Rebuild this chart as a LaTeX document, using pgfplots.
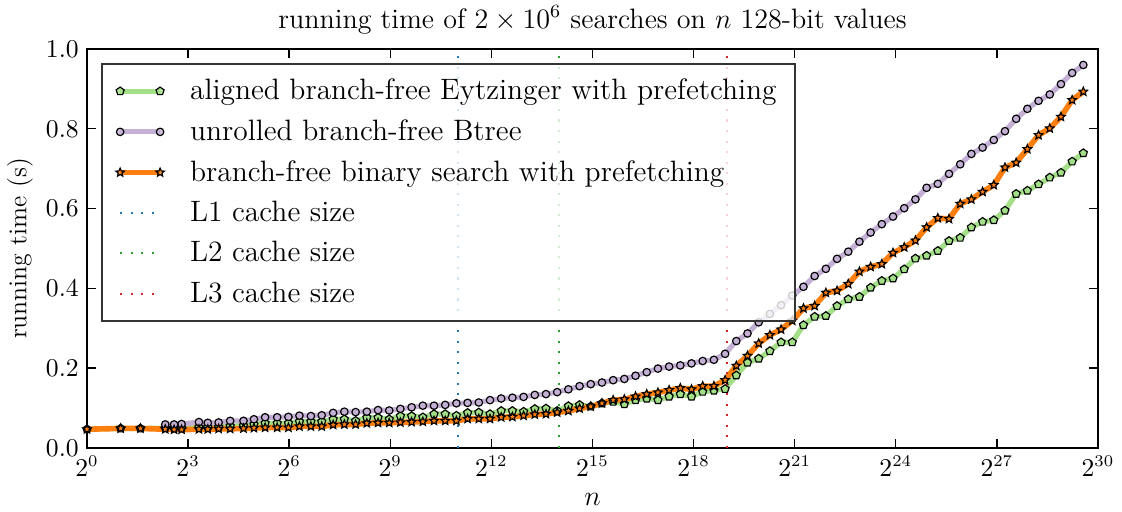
\documentclass[border=0pt]{standalone}
\usepackage{pgfplots}
\usepackage{pgfplotstable}
\pgfplotsset{compat=1.18}
\usetikzlibrary{plotmarks}
\definecolor{cgreen}{HTML}{A2DF86}
\definecolor{cpurple}{HTML}{C5B0D5}
\definecolor{corange}{HTML}{FF7F0E}
\definecolor{lone}{HTML}{1F77B4}
\definecolor{ltwo}{HTML}{2CA02C}
\definecolor{lthree}{HTML}{D62728}
\pgfdeclareplotmark{fstar}{%
  \pgfpathmoveto{\pgfpointpolar{90}{\pgfplotmarksize}}%
  \pgfpathlineto{\pgfpointpolar{126}{0.45\pgfplotmarksize}}%
  \pgfpathlineto{\pgfpointpolar{162}{\pgfplotmarksize}}%
  \pgfpathlineto{\pgfpointpolar{198}{0.45\pgfplotmarksize}}%
  \pgfpathlineto{\pgfpointpolar{234}{\pgfplotmarksize}}%
  \pgfpathlineto{\pgfpointpolar{270}{0.45\pgfplotmarksize}}%
  \pgfpathlineto{\pgfpointpolar{306}{\pgfplotmarksize}}%
  \pgfpathlineto{\pgfpointpolar{342}{0.45\pgfplotmarksize}}%
  \pgfpathlineto{\pgfpointpolar{18}{\pgfplotmarksize}}%
  \pgfpathlineto{\pgfpointpolar{54}{0.45\pgfplotmarksize}}%
  \pgfpathclose\pgfusepathqfillstroke}

\pgfplotstableread{
n y
1 0.047
2 0.049
3 0.049
5 0.050
6 0.050
7 0.050
10 0.052
12 0.052
15 0.053
19 0.055
25 0.056
31 0.059
39 0.062
50 0.062
63 0.062
79 0.066
100 0.066
125 0.066
158 0.072
199 0.072
251 0.068
316 0.076
398 0.076
501 0.072
630 0.080
794 0.080
1000 0.077
1258 0.085
1584 0.085
1995 0.081
2511 0.088
3162 0.089
3981 0.085
5011 0.093
6309 0.093
7943 0.091
10000 0.098
12589 0.099
15848 0.093
19952 0.105
25118 0.108
31622 0.104
39810 0.112
50118 0.116
63095 0.110
79432 0.120
100000 0.124
125892 0.120
158489 0.129
199526 0.135
251188 0.129
316227 0.141
398107 0.144
501187 0.148
630957 0.182
794328 0.214
1000000 0.224
1258925 0.243
1584893 0.265
1995262 0.265
2511886 0.308
3162277 0.329
3981071 0.331
5011872 0.356
6309573 0.373
7943282 0.379
10000000 0.402
12589254 0.419
15848931 0.425
19952623 0.448
25118864 0.475
31622776 0.482
39810717 0.494
50118723 0.519
63095734 0.527
79432823 0.553
100000000 0.567
125892541 0.571
158489319 0.595
199526231 0.637
251188643 0.645
316227766 0.661
398107170 0.678
501187233 0.690
630957344 0.718
794328234 0.739
}\eytz

\pgfplotstableread{
n y
5 0.059
6 0.059
7 0.060
10 0.065
12 0.063
15 0.064
19 0.068
25 0.068
31 0.072
39 0.077
50 0.077
63 0.078
79 0.081
100 0.080
125 0.082
158 0.088
199 0.091
251 0.090
316 0.091
398 0.095
501 0.094
630 0.098
794 0.102
1000 0.106
1258 0.106
1584 0.108
1995 0.112
2511 0.113
3162 0.114
3981 0.120
5011 0.124
6309 0.126
7943 0.128
10000 0.133
12589 0.135
15848 0.140
19952 0.147
25118 0.155
31622 0.160
39810 0.164
50118 0.170
63095 0.173
79432 0.181
100000 0.190
125892 0.199
158489 0.204
199526 0.207
251188 0.212
316227 0.218
398107 0.221
501187 0.236
630957 0.268
794328 0.287
1000000 0.315
1258925 0.336
1584893 0.358
1995262 0.382
2511886 0.404
3162277 0.431
3981071 0.449
5011872 0.474
6309573 0.492
7943282 0.517
10000000 0.540
12589254 0.561
15848931 0.580
19952623 0.601
25118864 0.623
31622776 0.652
39810717 0.662
50118723 0.687
63095734 0.711
79432823 0.737
100000000 0.753
125892541 0.772
158489319 0.794
199526231 0.825
251188643 0.850
316227766 0.870
398107170 0.886
501187233 0.912
630957344 0.940
794328234 0.960
}\btree

\pgfplotstableread{
n y
1 0.047
2 0.049
3 0.049
5 0.047
6 0.046
7 0.046
10 0.047
12 0.047
15 0.048
19 0.048
25 0.049
31 0.050
39 0.051
50 0.051
63 0.051
79 0.054
100 0.054
125 0.054
158 0.058
199 0.059
251 0.059
316 0.062
398 0.063
501 0.063
630 0.064
794 0.065
1000 0.066
1258 0.068
1584 0.068
1995 0.068
2511 0.073
3162 0.073
3981 0.073
5011 0.077
6309 0.078
7943 0.081
10000 0.084
12589 0.085
15848 0.089
19952 0.093
25118 0.099
31622 0.104
39810 0.112
50118 0.120
63095 0.122
79432 0.129
100000 0.135
125892 0.139
158489 0.145
199526 0.150
251188 0.147
316227 0.155
398107 0.155
501187 0.170
630957 0.206
794328 0.231
1000000 0.262
1258925 0.283
1584893 0.297
1995262 0.319
2511886 0.350
3162277 0.356
3981071 0.389
5011872 0.394
6309573 0.411
7943282 0.442
10000000 0.454
12589254 0.461
15848931 0.489
19952623 0.503
25118864 0.520
31622776 0.553
39810717 0.576
50118723 0.574
63095734 0.612
79432823 0.623
100000000 0.642
125892541 0.659
158489319 0.703
199526231 0.715
251188643 0.749
316227766 0.784
398107170 0.801
501187233 0.830
630957344 0.872
794328234 0.893
}\binsearch

\begin{document}
\begin{tikzpicture}
\useasboundingbox (-37.18pt,-27.35pt) rectangle (442.31pt,191.45pt);
\begin{axis}[
  at={(0pt,0pt)}, anchor=south west,
  scale only axis, width=432.05pt, height=170.51pt,
  xmode=log, log basis x=2,
  xmin=1, xmax=1073741824, ymin=0, ymax=1,
  xtick={1,8,64,512,4096,32768,262144,2097152,16777216,134217728,1073741824},
  xticklabels={$2^{0}$,$2^{3}$,$2^{6}$,$2^{9}$,$2^{12}$,$2^{15}$,$2^{18}$,$2^{21}$,$2^{24}$,$2^{27}$,$2^{30}$},
  minor x tick num=0, minor tick length=0pt,
  ytick={0,0.2,0.4,0.6,0.8,1.0},
  yticklabel style={/pgf/number format/.cd, fixed, fixed zerofill, precision=1},
  tick label style={font=\fontsize{10.5}{12}\selectfont},
  major tick length=4pt,
  every tick/.style={black, line width=0.6pt},
  axis line style={line width=0.9pt},
  xlabel={$n$},
  xlabel style={at={(axis description cs:0.5,-0.13)}, anchor=center, font=\fontsize{11.5}{13}\selectfont},
  ylabel={running time (s)},
  ylabel style={at={(axis description cs:-0.0663,0.5)}, anchor=center, font=\fontsize{11}{13}\selectfont},
  legend cell align=left,
  legend image code/.code={\draw[mark repeat=2,mark phase=1] plot coordinates {(0cm,0cm) (0.3cm,0cm) (0.6cm,0cm)};},
  legend style={at={(axis description cs:0.0138,0.965)}, anchor=north west,
    draw=black!80, line width=0.8pt, fill=white, fill opacity=0.8, text opacity=1, draw opacity=1,
    font=\fontsize{12.6}{14}\selectfont, inner xsep=6pt, inner ysep=4.5pt,
    row sep=3.0pt, column sep=9pt},
]
\addplot[color=cgreen, line width=2.2pt, mark=pentagon*, mark size=1.8pt,
  mark options={draw=black, fill=cgreen, line width=0.5pt}] table[x=n,y=y] {\eytz};
\addlegendentry{aligned branch-free Eytzinger with prefetching}
\addplot[color=cpurple, line width=2.2pt, mark=*, mark size=1.6pt,
  mark options={draw=black, fill=cpurple, line width=0.5pt}] table[x=n,y=y] {\btree};
\addlegendentry{unrolled branch-free Btree}
\addplot[color=corange, line width=2.4pt, mark=fstar, mark size=1.9pt,
  mark options={draw=black, fill=corange, line width=0.5pt}] table[x=n,y=y] {\binsearch};
\addlegendentry{branch-free binary search with prefetching}
\addplot[color=lone, line width=0.9pt, dash pattern=on 0.9pt off 3.6pt] coordinates {(2048,0) (2048,1)};
\addlegendentry{L1 cache size}
\addplot[color=ltwo, line width=0.9pt, dash pattern=on 0.9pt off 3.6pt] coordinates {(16384,0) (16384,1)};
\addlegendentry{L2 cache size}
\addplot[color=lthree, line width=0.9pt, dash pattern=on 0.9pt off 3.6pt] coordinates {(524288,0) (524288,1)};
\addlegendentry{L3 cache size}
\end{axis}
\node[font=\fontsize{12}{14}\selectfont, anchor=center] at (216.03pt,182.96pt)
  {running time of $2\times10^{6}$ searches on $n$ 128-bit values};
\end{tikzpicture}
\end{document}
